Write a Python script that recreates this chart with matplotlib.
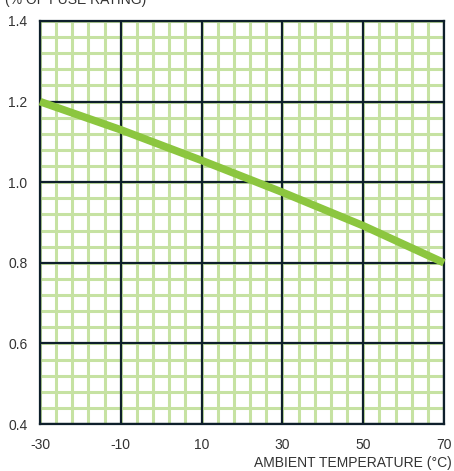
import numpy as np
import matplotlib
matplotlib.use('Agg')
from matplotlib import pyplot as plt

plt.rcParams['font.family'] = ['Liberation Sans', 'DejaVu Sans']
plt.rcParams['axes.unicode_minus'] = False

# derating curve
temps = [-30, -10, 10, 30, 50, 70]
rating = [1.20, 1.130, 1.054, 0.975, 0.892, 0.80]

xticks = [-30, -10, 10, 30, 50, 70]
yticks = [0.4, 0.6, 0.8, 1.0, 1.2, 1.4]

green = '#8cc63f'
light_green = '#c6e2a2'
navy = '#0e1f2b'

fig = plt.figure(figsize=(4.54, 4.71), dpi=100)
ax = fig.add_axes([40/454, 47/471, 404/454, 403/471])

ax.set_xlim(xticks[0], xticks[-1])
ax.set_ylim(yticks[0], yticks[-1])
ax.set_xticks(xticks)
ax.set_yticks(yticks)
ax.set_yticklabels(['%.1f' % v for v in yticks])

# 5 minor cells per major cell
xminor = np.linspace(xticks[0], xticks[-1], 5 * (len(xticks) - 1) + 1)
yminor = np.linspace(yticks[0], yticks[-1], 5 * (len(yticks) - 1) + 1)
for v in xminor:
    ax.axvline(v, color=light_green, linewidth=2.2, zorder=1)
for v in yminor:
    ax.axhline(v, color=light_green, linewidth=2.2, zorder=1)
for v in xticks:
    ax.axvline(v, color=navy, linewidth=1.6, zorder=2)
for v in yticks:
    ax.axhline(v, color=navy, linewidth=1.6, zorder=2)

for s in ax.spines.values():
    s.set_color(navy)
    s.set_linewidth(1.6)

ax.tick_params(which='both', length=0, colors='#333333', labelsize=10)
ax.tick_params(axis='y', pad=9)
ax.tick_params(axis='x', pad=10)

ax.plot(temps, rating, color=green, linewidth=5.5, solid_capstyle='butt',
        solid_joinstyle='round', zorder=3, clip_on=False)

fig.text(452/454, 8/471, 'AMBIENT TEMPERATURE (°C)', ha='right', va='center',
         fontsize=10, color='#333333')
fig.text(5/454, 1 - 4/471, '(% OF FUSE RATING)', ha='left', va='baseline',
         fontsize=10, color='#333333')

fig.savefig('out.png', dpi=100)
